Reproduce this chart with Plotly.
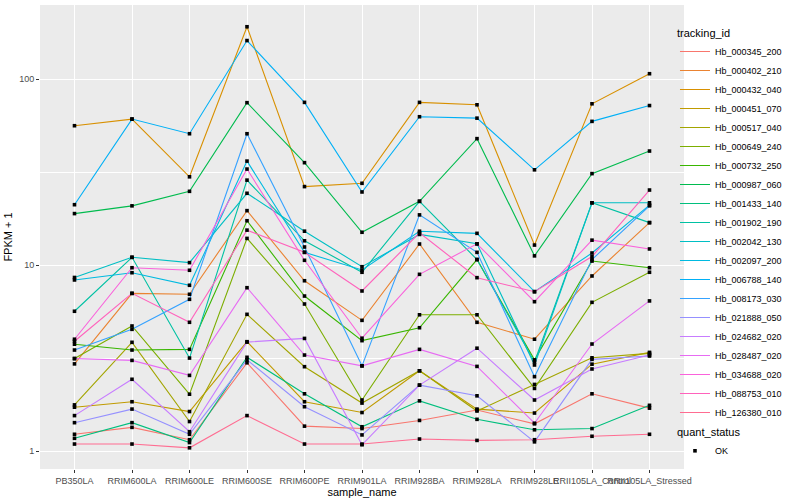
import plotly.graph_objects as go

# ---------------- data ----------------
samples = ["PB350LA", "RRIM600LA", "RRIM600LE", "RRIM600SE", "RRIM600PE",
           "RRIM901LA", "RRIM928BA", "RRIM928LA", "RRIM928LE",
           "RRII105LA_Control", "RRII105LA_Stressed"]

tracking_ids = ["Hb_000345_200", "Hb_000402_210", "Hb_000432_040", "Hb_000451_070",
                "Hb_000517_040", "Hb_000649_240", "Hb_000732_250", "Hb_000987_060",
                "Hb_001433_140", "Hb_001902_190", "Hb_002042_130", "Hb_002097_200",
                "Hb_006788_140", "Hb_008173_030", "Hb_021888_050", "Hb_024682_020",
                "Hb_028487_020", "Hb_034688_020", "Hb_088753_010", "Hb_126380_010"]

colors = ["#F8766D", "#EA8331", "#D89000", "#C09B00", "#A3A500", "#7CAE00",
          "#39B600", "#00BB4E", "#00BF7D", "#00C1A3", "#00BFC4", "#00BAE0",
          "#00B0F6", "#35A2FF", "#9590FF", "#C77CFF", "#E76BF3", "#FA62DB",
          "#FF62BC", "#FF6C91"]

# FPKM + 1 per sample (in the order of `samples`)
hb_000345_200 = [1.23, 1.34, 1.15, 2.98, 1.36, 1.32, 1.46, 1.66, 1.40, 2.03, 1.70]
hb_000402_210 = [2.94, 7.04, 6.96, 19.6, 8.23, 5.04, 12.97, 4.92, 3.99, 8.73, 16.9]
hb_000432_040 = [56.1, 60.9, 29.8, 191.0, 26.4, 27.5, 74.9, 72.7, 12.8, 73.6, 106.8]
hb_000451_070 = [1.72, 1.84, 1.63, 3.87, 1.84, 1.61, 2.70, 1.68, 1.60, 2.93, 3.39]
hb_000517_040 = [1.77, 3.84, 1.44, 5.43, 2.84, 1.81, 2.70, 1.64, 2.28, 3.17, 3.35]
hb_000649_240 = [3.14, 4.70, 2.02, 13.9, 6.17, 1.88, 5.40, 5.40, 2.17, 6.30, 9.14]
hb_000732_250 = [3.75, 3.49, 3.52, 17.3, 6.81, 3.92, 4.60, 10.7, 3.09, 10.5, 9.67]
hb_000987_060 = [18.9, 20.8, 24.9, 74.6, 35.5, 15.0, 22.0, 47.8, 11.2, 31.0, 41.0]
hb_001433_140 = [1.17, 1.42, 1.11, 3.19, 2.03, 1.35, 1.86, 1.48, 1.30, 1.32, 1.76]
hb_001902_190 = [5.64, 11.0, 3.16, 28.6, 13.5, 9.14, 22.0, 10.7, 3.01, 21.6, 16.9]
hb_002042_130 = [8.57, 11.0, 10.3, 24.3, 15.2, 9.79, 14.6, 13.0, 2.90, 21.6, 21.6]
hb_002097_200 = [8.31, 9.09, 7.78, 36.2, 11.7, 9.40, 15.2, 14.8, 7.19, 11.6, 21.0]
hb_006788_140 = [21.1, 60.9, 50.8, 161.0, 74.9, 24.7, 62.7, 61.6, 32.5, 59.2, 72.0]
hb_008173_030 = [3.49, 4.51, 6.54, 50.8, 12.5, 2.87, 18.6, 11.7, 2.51, 10.7, 20.8]
hb_021888_050 = [1.42, 1.68, 1.23, 3.09, 1.73, 1.22, 2.26, 1.98, 1.12, 3.11, 3.24]
hb_024682_020 = [1.55, 2.43, 1.27, 3.85, 4.03, 1.08, 2.26, 3.57, 1.88, 2.76, 3.28]
hb_028487_020 = [3.14, 3.07, 2.55, 7.55, 3.28, 2.87, 3.52, 2.85, 1.41, 3.76, 6.41]
hb_034688_020 = [3.99, 9.67, 9.37, 32.8, 10.6, 4.04, 8.91, 13.0, 6.35, 13.6, 12.2]
hb_088753_010 = [3.89, 7.04, 4.92, 15.4, 11.7, 7.25, 14.9, 8.55, 7.19, 11.1, 25.3]
hb_126380_010 = [1.09, 1.09, 1.04, 1.55, 1.09, 1.09, 1.16, 1.14, 1.15, 1.20, 1.23]

series_values = [hb_000345_200, hb_000402_210, hb_000432_040, hb_000451_070,
                 hb_000517_040, hb_000649_240, hb_000732_250, hb_000987_060,
                 hb_001433_140, hb_001902_190, hb_002042_130, hb_002097_200,
                 hb_006788_140, hb_008173_030, hb_021888_050, hb_024682_020,
                 hb_028487_020, hb_034688_020, hb_088753_010, hb_126380_010]

quant_status = "OK"

# ---------------- figure ----------------
FONT = "Liberation Sans, Arial, sans-serif"
fig = go.Figure()

for name, col, vals in zip(tracking_ids, colors, series_values):
    fig.add_trace(go.Scatter(
        x=samples, y=vals, mode="lines", name=name,
        line=dict(color=col, width=1.1),
        legend="legend", showlegend=True,
    ))

# all points, shape by quant_status
px_all, py_all = [], []
for vals in series_values:
    px_all.extend(samples)
    py_all.extend(vals)
fig.add_trace(go.Scatter(
    x=px_all, y=py_all, mode="markers", name=quant_status,
    marker=dict(symbol="square", size=3.6, color="black", line=dict(width=0)),
    legend="legend2", showlegend=True,
))

fig.update_layout(
    width=800, height=500,
    margin=dict(l=40, r=116, t=5, b=31),
    paper_bgcolor="white", plot_bgcolor="#EBEBEB",
    font=dict(family=FONT, color="black", size=11),
    showlegend=True,
    legend=dict(
        title=dict(text="tracking_id", font=dict(size=11, color="black")),
        font=dict(size=9, color="black"),
        x=0.986, xanchor="left", y=0.962, yanchor="top",
        bgcolor="rgba(255,255,255,0)", borderwidth=0,
        tracegroupgap=0, itemwidth=30,
    ),
    legend2=dict(
        title=dict(text="quant_status", font=dict(size=11, color="black")),
        font=dict(size=9, color="black"),
        x=0.986, xanchor="left", y=0.1013, yanchor="top",
        bgcolor="rgba(255,255,255,0)", borderwidth=0,
    ),
)

fig.update_xaxes(
    type="category", categoryorder="array", categoryarray=samples,
    range=[-0.6, 10.6],
    showgrid=True, gridcolor="white", gridwidth=1.1,
    zeroline=False, showline=False,
    ticks="outside", ticklen=3, tickcolor="#333333", tickwidth=1,
    tickangle=0,
    tickfont=dict(size=9, color="#4D4D4D", family=FONT),
    title=dict(text="sample_name", font=dict(size=11, color="black"), standoff=1),
    automargin=False,
)
fig.update_yaxes(
    type="log", range=[-0.0968, 2.398],
    tickvals=[1, 10, 100], ticktext=["1", "10", "100"],
    showgrid=True, gridcolor="white", gridwidth=1.1,
    minor=dict(tickvals=[10 ** 0.5, 10 ** 1.5], showgrid=True,
               gridcolor="white", gridwidth=0.5, ticks=""),
    zeroline=False, showline=False,
    ticks="outside", ticklen=3, tickcolor="#333333", tickwidth=1,
    tickfont=dict(size=9, color="#4D4D4D", family=FONT),
    title=dict(text="FPKM + 1", font=dict(size=11, color="black"), standoff=4),
    automargin=False,
)

fig.write_html(
    "out.html",
    config={"displayModeBar": False},
    post_script="document.body.style.margin='0';document.body.style.overflow='hidden';",
)
